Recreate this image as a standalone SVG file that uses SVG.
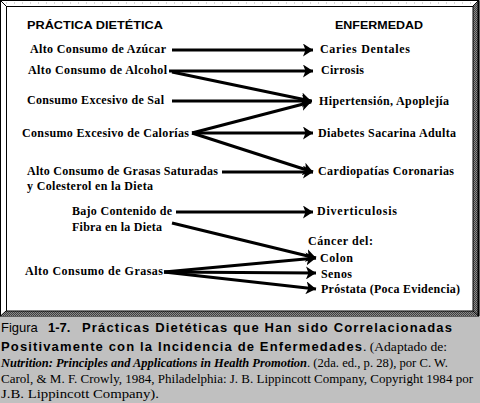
<svg xmlns="http://www.w3.org/2000/svg" width="480" height="403" viewBox="0 0 480 403">
<style>
.lbl{font-family:"Liberation Serif","Times New Roman",serif;font-weight:bold;font-size:12px;fill:#000}
.hdr{font-family:"Liberation Sans",Arial,sans-serif;font-weight:bold;font-size:11px;fill:#000}
.cap{font-family:"Liberation Sans",Arial,sans-serif;font-size:13px;fill:#000}
.capb{font-family:"Liberation Sans",Arial,sans-serif;font-size:13px;font-weight:bold;fill:#000}
.capt{font-family:"Liberation Serif","Times New Roman",serif;font-size:13px;fill:#000}
.capti{font-family:"Liberation Serif","Times New Roman",serif;font-size:13px;font-style:italic;font-weight:bold;fill:#000}
.arr{stroke:#000;stroke-width:3;fill:none;marker-end:url(#ah)}
</style>
<defs>
<marker id="ah" markerUnits="userSpaceOnUse" markerWidth="11" markerHeight="13" refX="10" refY="6.5" orient="auto">
<path d="M0,0 L10,6.5 L0,13 L2.5,6.5 Z" fill="#000"/>
</marker>
<pattern id="dk" width="2" height="2" patternUnits="userSpaceOnUse">
<rect width="2" height="2" fill="#8a8a8a"/>
<rect width="1" height="1" fill="#404040"/>
<rect x="1" y="1" width="1" height="1" fill="#404040"/>
</pattern>
</defs>
<rect x="0" y="0" width="480" height="403" fill="#c0c0c0"/>
<g id="frame">
<rect x="0.5" y="0.5" width="478" height="315.5" fill="#ffffff" stroke="#000"/>
<polygon points="473,6 478.5,0.5 478.5,316 473,311" fill="url(#dk)"/>
<polygon points="6,311 473,311 478.5,316 0.5,316" fill="url(#dk)"/>
<line x1="0.5" y1="0.5" x2="6" y2="6" stroke="#000"/>
<line x1="478.5" y1="0.5" x2="473" y2="6" stroke="#000"/>
<line x1="0.5" y1="316" x2="6" y2="311" stroke="#000"/>
<line x1="478.5" y1="316" x2="473" y2="311" stroke="#000"/>
<line x1="6" y1="3" x2="473" y2="3" stroke="#b0b0b0" stroke-dasharray="1 7"/>
<rect x="6.5" y="6.5" width="466.5" height="304.5" fill="#ffffff" stroke="#000"/>
<line x1="478.5" y1="0.5" x2="478.5" y2="316" stroke="#000" stroke-width="2"/>
</g>
<g id="headers">
<text class="hdr" x="27" y="29" textLength="136" lengthAdjust="spacingAndGlyphs">PRÁCTICA DIETÉTICA</text>
<text class="hdr" x="335" y="29" textLength="88" lengthAdjust="spacingAndGlyphs">ENFERMEDAD</text>
</g>
<g id="n-azucar"><text class="lbl" x="30" y="53" textLength="136">Alto Consumo de Azúcar</text></g>
<g id="n-alcohol"><text class="lbl" x="28" y="74" textLength="139">Alto Consumo de Alcohol</text></g>
<g id="n-sal"><text class="lbl" x="27" y="104" textLength="137">Consumo Excesivo de Sal</text></g>
<g id="n-calorias"><text class="lbl" x="22" y="137" textLength="167">Consumo Excesivo de Calorías</text></g>
<g id="n-saturadas"><text class="lbl" x="27" y="175" textLength="191">Alto Consumo de Grasas Saturadas</text><text class="lbl" x="27" y="190" textLength="126">y Colesterol en la Dieta</text></g>
<g id="n-fibra"><text class="lbl" x="72" y="215" textLength="100">Bajo Contenido de</text><text class="lbl" x="72" y="231" textLength="90">Fibra en la Dieta</text></g>
<g id="n-grasas"><text class="lbl" x="25" y="275" textLength="138">Alto Consumo de Grasas</text></g>
<g id="n-caries"><text class="lbl" x="320" y="53" textLength="90">Caries Dentales</text></g>
<g id="n-cirrosis"><text class="lbl" x="321" y="74" textLength="43">Cirrosis</text></g>
<g id="n-hipertension"><text class="lbl" x="319" y="105" textLength="130">Hipertensión, Apoplejía</text></g>
<g id="n-diabetes"><text class="lbl" x="318" y="137" textLength="138">Diabetes Sacarina Adulta</text></g>
<g id="n-cardio"><text class="lbl" x="318" y="175" textLength="136">Cardiopatías Coronarias</text></g>
<g id="n-diverticulosis"><text class="lbl" x="317" y="215" textLength="80">Diverticulosis</text></g>
<g id="n-cancer"><text class="lbl" x="308" y="245" textLength="65">Cáncer del:</text><text class="lbl" x="320" y="262" textLength="33">Colon</text><text class="lbl" x="321" y="278" textLength="31">Senos</text><text class="lbl" x="321" y="293" textLength="139">Próstata (Poca Evidencia)</text></g>
<g id="connectors">
<line class="arr" x1="172" y1="50" x2="313" y2="50"/>
<line class="arr" x1="169" y1="71" x2="313" y2="71"/>
<line class="arr" x1="172" y1="72" x2="311" y2="101"/>
<line class="arr" x1="172" y1="101" x2="312" y2="101"/>
<line class="arr" x1="192" y1="133" x2="311" y2="102"/>
<line class="arr" x1="192" y1="133" x2="313" y2="133"/>
<line class="arr" x1="192" y1="133" x2="313" y2="172"/>
<line class="arr" x1="222" y1="172" x2="313" y2="172"/>
<line class="arr" x1="176" y1="212" x2="313" y2="212"/>
<line class="arr" x1="172" y1="223" x2="316" y2="258"/>
<line class="arr" x1="164" y1="272" x2="316" y2="258"/>
<line class="arr" x1="164" y1="272" x2="316" y2="273"/>
<line class="arr" x1="164" y1="272" x2="316" y2="289"/>
</g>
<g id="caption">
<text class="cap" x="1" y="332">Figura</text>
<text class="capb" x="48" y="332">1-7.</text>
<text class="capb" x="82" y="332" textLength="370" lengthAdjust="spacing">Prácticas Dietéticas que Han sido Correlacionadas</text>
<text class="capb" x="1" y="351" textLength="361" lengthAdjust="spacing">Positivamente con la Incidencia de Enfermedades</text>
<text class="capt" x="363" y="351" textLength="84" lengthAdjust="spacingAndGlyphs">. (Adaptado de:</text>
<text class="capti" x="1" y="367" textLength="306" lengthAdjust="spacingAndGlyphs">Nutrition: Principles and Applications in Health Promotion</text>
<text class="capt" x="307" y="367" textLength="141" lengthAdjust="spacingAndGlyphs">. (2da. ed., p. 28), por C. W.</text>
<text class="capt" x="1" y="383" textLength="472" lengthAdjust="spacingAndGlyphs">Carol, &amp; M. F. Crowly, 1984, Philadelphia: J. B. Lippincott Company, Copyright 1984 por</text>
<text class="capt" x="1" y="398" textLength="158" lengthAdjust="spacingAndGlyphs">J.B. Lippincott Company).</text>
</g>
</svg>
